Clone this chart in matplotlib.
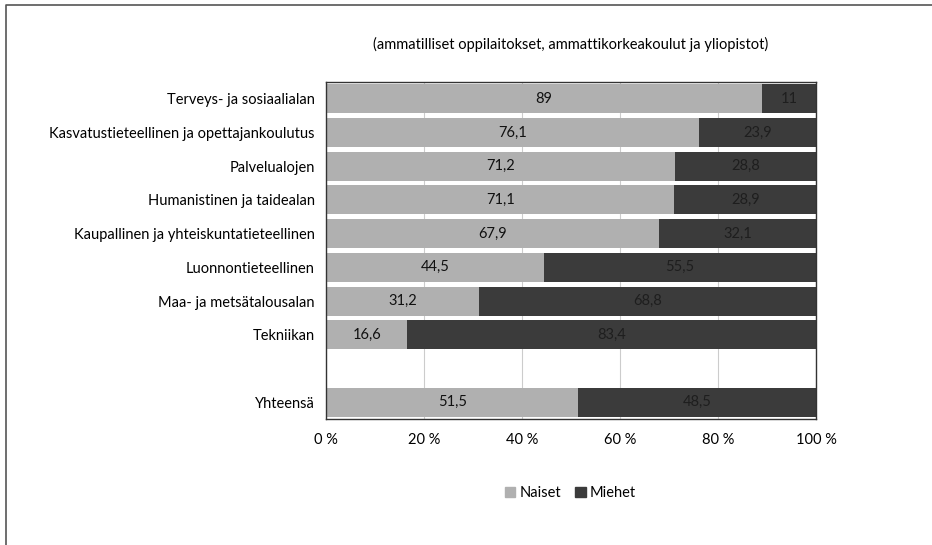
import matplotlib.pyplot as plt
from matplotlib.patches import Rectangle
from matplotlib.lines import Line2D

# data
alat = ['Terveys- ja sosiaalialan',
        'Kasvatustieteellinen ja opettajankoulutus',
        'Palvelualojen',
        'Humanistinen ja taidealan',
        'Kaupallinen ja yhteiskuntatieteellinen',
        'Luonnontieteellinen',
        'Maa- ja metsätalousalan',
        'Tekniikan',
        '',
        'Yhteensä']
naiset = [89, 76.1, 71.2, 71.1, 67.9, 44.5, 31.2, 16.6, None, 51.5]
miehet = [11, 23.9, 28.8, 28.9, 32.1, 55.5, 68.8, 83.4, None, 48.5]

plt.rcParams['font.family'] = ['Lato', 'DejaVu Sans']

fig = plt.figure(figsize=(9.32, 5.45), dpi=100)
ax = fig.add_axes([0.3498, 0.2312, 0.5258, 0.6183])

# kehys (vain ylä- ja vasen reuna näkyy)
fig.lines.append(Line2D([6 / 932, 6 / 932, 1], [0, 1 - 5 / 545, 1 - 5 / 545],
                        transform=fig.transFigure, color='#555555', linewidth=1.2))

fmt = lambda v: ('%g' % v).replace('.', ',')
ypos = list(range(len(alat)))
for y, n, m in zip(ypos, naiset, miehet):
    if n is None:
        continue
    ax.barh(y, n, height=0.86, color='#b0b0b0', edgecolor='none', zorder=2)
    ax.barh(y, m, left=n, height=0.86, color='#3b3b3b', edgecolor='none', zorder=2)
    ax.text(n / 2, y, fmt(n), ha='center', va='center', fontsize=10.5, color='#111111', zorder=3)
    ax.text(n + m / 2, y, fmt(m), ha='center', va='center', fontsize=10.5, color='#1e1e1e', zorder=3)

ax.set_xlim(0, 100)
ax.set_ylim(len(alat) - 0.5, -0.5)
ax.set_yticks(ypos)
ax.set_yticklabels(alat, fontsize=10.5)
ax.set_xticks([0, 20, 40, 60, 80, 100])
ax.set_xticklabels(['0 %', '20 %', '40 %', '60 %', '80 %', '100 %'], fontsize=10.5)
ax.tick_params(length=0, pad=8)
ax.tick_params(axis='x', pad=10)
ax.grid(axis='x', color='#cccccc', linewidth=0.8, zorder=0)
for s in ax.spines.values():
    s.set_color('#333333')
    s.set_linewidth(1)

# selite
h1 = Rectangle((0, 0), 1, 1, color='#b0b0b0')
h2 = Rectangle((0, 0), 1, 1, color='#3b3b3b')
fig.legend([h1, h2], ['Naiset', 'Miehet'], loc='center', bbox_to_anchor=(0.612, 0.095),
           ncol=2, frameon=False, fontsize=10.5, handlelength=0.7, handleheight=0.7,
           handletextpad=0.3, columnspacing=1.0)

fig.text(0.612, 0.918, '(ammatilliset oppilaitokset, ammattikorkeakoulut ja yliopistot)',
         ha='center', va='center', fontsize=10.5)

fig.savefig('out.png', dpi=100)
